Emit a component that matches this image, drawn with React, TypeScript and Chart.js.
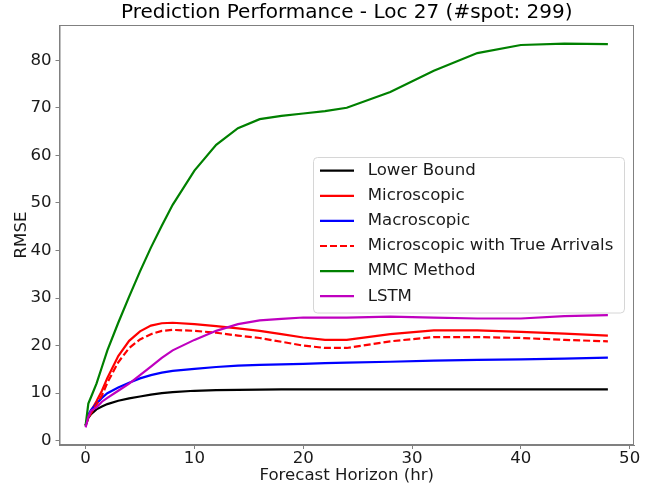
import React, { useEffect, useRef } from "react";
import { Chart, registerables } from "chart.js";

Chart.register(...registerables);

const horizon = [0, 0.25, 0.5, 1, 1.5, 2, 3, 4, 5, 6, 7, 8, 10, 12, 14, 16, 18, 20, 22, 24, 28, 32, 36, 40, 44, 48];
const lowerBound = [3.2, 4.8, 5.6, 6.6, 7.2, 7.7, 8.4, 8.9, 9.3, 9.7, 10.0, 10.2, 10.5, 10.65, 10.7, 10.75, 10.78, 10.8, 10.8, 10.8, 10.8, 10.8, 10.8, 10.8, 10.8, 10.8];
const microscopic = [3.2, 5.0, 6.3, 8.3, 10.5, 13.2, 17.8, 21.0, 23.0, 24.2, 24.7, 24.8, 24.5, 24.1, 23.6, 23.1, 22.4, 21.7, 21.2, 21.2, 22.4, 23.2, 23.2, 22.9, 22.5, 22.1];
const macroscopic = [3.2, 5.5, 6.5, 7.8, 9.0, 10.0, 11.2, 12.2, 13.1, 13.8, 14.3, 14.7, 15.1, 15.5, 15.8, 15.95, 16.05, 16.15, 16.3, 16.4, 16.6, 16.85, 17.0, 17.1, 17.25, 17.45];
const microTrueArrivals = [3.2, 4.8, 5.8, 7.6, 9.5, 12.2, 16.5, 19.5, 21.3, 22.4, 23.1, 23.3, 23.1, 22.7, 22.1, 21.6, 20.8, 20.0, 19.5, 19.5, 20.9, 21.8, 21.8, 21.6, 21.2, 20.9];
const mmcMethod = [3.2, 7.8, 9.2, 12.0, 15.5, 19.0, 24.8, 30.3, 35.6, 40.6, 45.2, 49.6, 56.8, 62.2, 65.7, 67.6, 68.3, 68.8, 69.3, 70.0, 73.3, 77.8, 81.5, 83.2, 83.5, 83.4];
const lstm = [2.8, 5.0, 6.3, 7.0, 8.2, 9.0, 10.5, 12.0, 13.8, 15.6, 17.4, 19.0, 21.2, 23.1, 24.5, 25.3, 25.6, 25.9, 25.9, 25.9, 26.1, 25.9, 25.7, 25.7, 26.2, 26.4];

const seriesNames = ["Lower Bound", "Microscopic", "Macroscopic", "Microscopic with True Arrivals", "MMC Method", "LSTM"];
const seriesValues = [lowerBound, microscopic, macroscopic, microTrueArrivals, mmcMethod, lstm];
const seriesColors = ["#000000", "#ff0000", "#0000ff", "#ff0000", "#008000", "#bf00bf"];
const seriesDashes: number[][] = [[], [], [], [7, 3], [], []];

const xTicks = [0, 10, 20, 30, 40, 50];
const yTicks = [0, 10, 20, 30, 40, 50, 60, 70, 80];

const FONT = "'DejaVu Sans', sans-serif";

const framePlugin = {
  id: "frame",
  afterDatasetsDraw(chart: any) {
    const { ctx, chartArea } = chart;
    ctx.save();
    ctx.strokeStyle = "#808080";
    ctx.lineWidth = 1;
    ctx.strokeRect(chartArea.left + 0.5, chartArea.top + 0.5, chartArea.right - chartArea.left - 1, chartArea.bottom - chartArea.top - 1);
    ctx.restore();
  },
};

const legendPlugin = {
  id: "customLegend",
  afterDraw(chart: any) {
    const { ctx } = chart;
    ctx.save();
    ctx.beginPath();
    ctx.roundRect(313.5, 157.5, 311, 155.5, 4);
    ctx.fillStyle = "rgba(255,255,255,0.85)";
    ctx.fill();
    ctx.strokeStyle = "#d6d6d6";
    ctx.lineWidth = 1;
    ctx.stroke();
    chart.data.datasets.forEach((ds: any, i: number) => {
      const y = 170.7 + 25.1 * i;
      ctx.beginPath();
      ctx.setLineDash(ds.borderDash || []);
      ctx.strokeStyle = ds.borderColor;
      ctx.lineWidth = ds.borderWidth;
      ctx.moveTo(320, y);
      ctx.lineTo(354, y);
      ctx.stroke();
      ctx.setLineDash([]);
      ctx.fillStyle = "#1a1a1a";
      ctx.font = `16.6px ${FONT}`;
      ctx.textBaseline = "middle";
      ctx.textAlign = "left";
      ctx.fillText(ds.label, 367.7, y);
    });
    ctx.restore();
  },
};

export default function App() {
  const canvasRef = useRef<HTMLCanvasElement | null>(null);

  useEffect(() => {
    const canvas = canvasRef.current;
    if (!canvas) return;
    const datasets = seriesNames.map((name, i) => ({
      label: name,
      data: horizon.map((x, j) => ({ x, y: seriesValues[i][j] })),
      borderColor: seriesColors[i],
      backgroundColor: seriesColors[i],
      borderWidth: 2.2,
      borderDash: seriesDashes[i],
      pointRadius: 0,
      tension: 0,
      fill: false,
      order: seriesNames.length - i,
    }));

    const tickFont = { family: FONT, size: 16.6 };

    const chart = new Chart(canvas, {
      type: "line",
      data: { datasets },
      plugins: [framePlugin, legendPlugin],
      options: {
        animation: false,
        responsive: false,
        maintainAspectRatio: false,
        layout: { padding: { left: 0, right: 18, top: 0, bottom: 0 } },
        plugins: {
          legend: { display: false },
          tooltip: { enabled: false },
          title: {
            display: true,
            text: "Prediction Performance - Loc 27 (#spot: 299)",
            fullSize: false,
            color: "#000",
            font: { family: FONT, size: 20, weight: "normal" },
            padding: { top: 1, bottom: 0 },
          },
        },
        scales: {
          x: {
            type: "linear",
            min: -2.4,
            max: 50.4,
            afterBuildTicks: (s: any) => {
              s.ticks = xTicks.map((v) => ({ value: v }));
            },
            afterFit: (s: any) => {
              s.height = 44;
            },
            grid: { display: true, drawOnChartArea: false, drawTicks: true, tickLength: 4, color: "#808080" },
            border: { display: true, color: "#808080", width: 1 },
            ticks: { font: tickFont, color: "#1a1a1a", padding: 0, maxRotation: 0, autoSkip: false },
            title: {
              display: true,
              text: "Forecast Horizon (hr)",
              color: "#1a1a1a",
              font: tickFont,
              padding: { top: 0, bottom: 3 },
            },
          },
          y: {
            type: "linear",
            min: -0.9,
            max: 87.4,
            afterBuildTicks: (s: any) => {
              s.ticks = yTicks.map((v) => ({ value: v }));
            },
            afterFit: (s: any) => {
              s.width = 59.5;
            },
            grid: { display: true, drawOnChartArea: false, drawTicks: true, tickLength: 4, color: "#808080" },
            border: { display: true, color: "#808080", width: 1 },
            ticks: { font: tickFont, color: "#1a1a1a", padding: 4, autoSkip: false },
            title: {
              display: true,
              text: "RMSE",
              color: "#1a1a1a",
              font: tickFont,
              padding: { top: 12, bottom: 0 },
            },
          },
        },
      },
    } as any);
    return () => chart.destroy();
  }, []);

  return (
    <div style={{ position: "absolute", left: 0, top: 0, width: 652, height: 489, background: "#fff" }}>
      <canvas ref={canvasRef} width={652} height={489} style={{ display: "block" }} />
    </div>
  );
}
